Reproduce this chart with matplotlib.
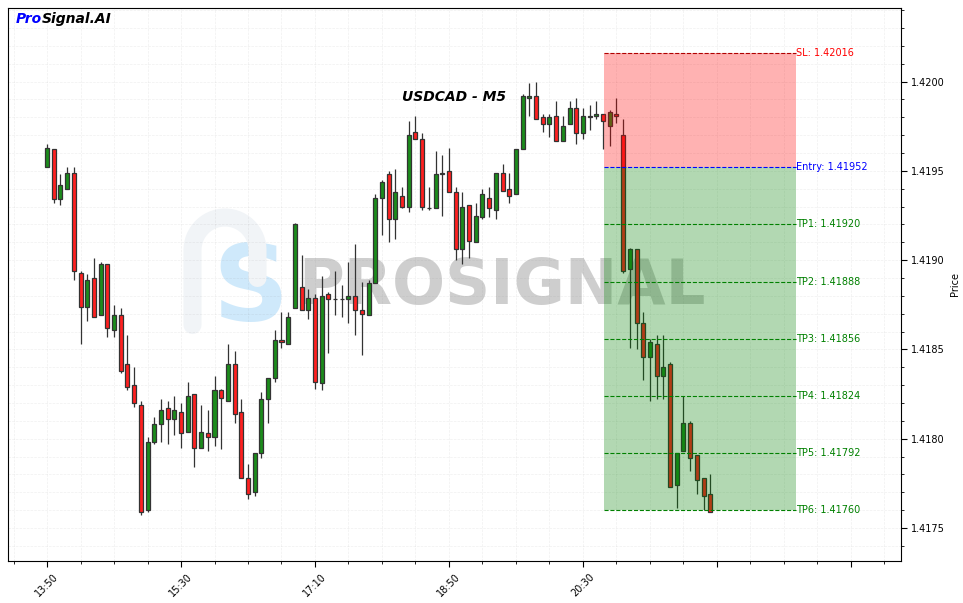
import numpy as np
import matplotlib
matplotlib.use('Agg')
import matplotlib.pyplot as plt
from matplotlib.ticker import MultipleLocator, FuncFormatter, FormatStrFormatter

symbol = 'USDCAD'
timeframe = 'M5'
start_hour, start_min, step_min = 13, 50, 5

# OHLC of the M5 candles
opens = [1.41952, 1.41962, 1.41934, 1.41940, 1.41949, 1.41893, 1.41874, 1.41890, 1.41869, 1.41898,
         1.41861, 1.41869, 1.41842, 1.41830, 1.41819, 1.41760, 1.41798, 1.41808, 1.41817, 1.41811,
         1.41815, 1.41804, 1.41825, 1.41795, 1.41803, 1.41801, 1.41827, 1.41821, 1.41842, 1.41815,
         1.41778, 1.41770, 1.41792, 1.41822, 1.41834, 1.41855, 1.41853, 1.41873, 1.41885, 1.41872,
         1.41879, 1.41831, 1.41881, 1.41878, 1.41878, 1.41878, 1.41880, 1.41872, 1.41869, 1.41887,
         1.41935, 1.41948, 1.41923, 1.41936, 1.41930, 1.41972, 1.41968, 1.41929, 1.41929, 1.41948,
         1.41950, 1.41938, 1.41906, 1.41931, 1.41910, 1.41924, 1.41935, 1.41928, 1.41949, 1.41940,
         1.41937, 1.41962, 1.41991, 1.41992, 1.41980, 1.41976, 1.41981, 1.41967, 1.41976, 1.41985,
         1.41971, 1.41981, 1.41981, 1.41982, 1.41975, 1.41982, 1.41970, 1.41895, 1.41906, 1.41865,
         1.41846, 1.41853, 1.41835, 1.41842, 1.41774, 1.41793, 1.41809, 1.41791, 1.41778, 1.41769]
highs = [1.41965, 1.41962, 1.41948, 1.41952, 1.41952, 1.41894, 1.41892, 1.41901, 1.41899, 1.41898,
         1.41875, 1.41873, 1.41858, 1.41840, 1.41821, 1.41801, 1.41812, 1.41822, 1.41821, 1.41824,
         1.41820, 1.41832, 1.41825, 1.41819, 1.41816, 1.41835, 1.41828, 1.41853, 1.41849, 1.41822,
         1.41786, 1.41792, 1.41826, 1.41834, 1.41861, 1.41871, 1.41871, 1.41921, 1.41903, 1.41884,
         1.41881, 1.41891, 1.41882, 1.41894, 1.41886, 1.41899, 1.41909, 1.41888, 1.41889, 1.41937,
         1.41945, 1.41950, 1.41951, 1.41941, 1.41978, 1.41981, 1.41971, 1.41941, 1.41961, 1.41959,
         1.41963, 1.41941, 1.41938, 1.41931, 1.41932, 1.41940, 1.41941, 1.41949, 1.41954, 1.41949,
         1.41962, 1.41993, 1.41999, 1.42000, 1.41982, 1.41982, 1.41989, 1.41981, 1.41989, 1.41991,
         1.41985, 1.41987, 1.41989, 1.41982, 1.41984, 1.41991, 1.41979, 1.41907, 1.41906, 1.41871,
         1.41856, 1.41858, 1.41858, 1.41843, 1.41792, 1.41824, 1.41810, 1.41791, 1.41778, 1.41780]
lows = [1.41952, 1.41932, 1.41931, 1.41940, 1.41889, 1.41853, 1.41866, 1.41868, 1.41869, 1.41857,
        1.41857, 1.41837, 1.41827, 1.41818, 1.41757, 1.41759, 1.41797, 1.41798, 1.41797, 1.41802,
        1.41795, 1.41804, 1.41784, 1.41795, 1.41793, 1.41796, 1.41794, 1.41821, 1.41809, 1.41778,
        1.41766, 1.41768, 1.41789, 1.41809, 1.41832, 1.41851, 1.41853, 1.41873, 1.41872, 1.41867,
        1.41828, 1.41827, 1.41848, 1.41869, 1.41868, 1.41865, 1.41858, 1.41847, 1.41869, 1.41887,
        1.41914, 1.41910, 1.41912, 1.41929, 1.41927, 1.41968, 1.41928, 1.41928, 1.41929, 1.41925,
        1.41938, 1.41900, 1.41898, 1.41901, 1.41910, 1.41923, 1.41924, 1.41923, 1.41939, 1.41932,
        1.41937, 1.41962, 1.41981, 1.41979, 1.41972, 1.41969, 1.41967, 1.41967, 1.41976, 1.41965,
        1.41968, 1.41973, 1.41979, 1.41962, 1.41964, 1.41977, 1.41893, 1.41851, 1.41850, 1.41833,
        1.41821, 1.41822, 1.41822, 1.41773, 1.41761, 1.41793, 1.41782, 1.41769, 1.41760, 1.41759]
closes = [1.41963, 1.41934, 1.41942, 1.41949, 1.41894, 1.41874, 1.41889, 1.41868, 1.41898, 1.41862,
          1.41869, 1.41838, 1.41829, 1.41820, 1.41759, 1.41798, 1.41808, 1.41816, 1.41811, 1.41816,
          1.41803, 1.41824, 1.41795, 1.41804, 1.41801, 1.41827, 1.41823, 1.41842, 1.41814, 1.41778,
          1.41769, 1.41792, 1.41822, 1.41834, 1.41855, 1.41854, 1.41868, 1.41920, 1.41872, 1.41879,
          1.41832, 1.41880, 1.41878, 1.41878, 1.41878, 1.41880, 1.41872, 1.41870, 1.41887, 1.41935,
          1.41944, 1.41923, 1.41938, 1.41930, 1.41970, 1.41968, 1.41930, 1.41929, 1.41948, 1.41949,
          1.41938, 1.41906, 1.41930, 1.41911, 1.41925, 1.41937, 1.41929, 1.41949, 1.41939, 1.41936,
          1.41962, 1.41992, 1.41992, 1.41979, 1.41976, 1.41980, 1.41967, 1.41975, 1.41985, 1.41971,
          1.41981, 1.41980, 1.41982, 1.41978, 1.41983, 1.41981, 1.41894, 1.41906, 1.41865, 1.41846,
          1.41854, 1.41835, 1.41840, 1.41773, 1.41792, 1.41809, 1.41789, 1.41777, 1.41768, 1.41759]

entry = 1.41952
stop_loss = 1.42016
take_profits = [1.41920, 1.41888, 1.41856, 1.41824, 1.41792, 1.41760]
zone_start, zone_end = 83.1, 111.8

o = np.array(opens)
h = np.array(highs)
l = np.array(lows)
c = np.array(closes)
x = np.arange(len(o))

fig = plt.figure(figsize=(9.63, 6.03), dpi=100)
ax = fig.add_axes([7.5 / 963, 42 / 603, 893 / 963, 553.5 / 603])

# watermark + logo
ax.text(0.554, 0.495, 'PROSIGNAL', transform=ax.transAxes, fontsize=45, fontweight='bold',
        color='gray', alpha=0.38, ha='center', va='center', zorder=0)
ax.text(0.2716, 0.486, 'S', transform=ax.transAxes, fontsize=76, fontweight='bold',
        color='#a8d8f8', alpha=0.55, ha='center', va='center', zorder=0)
t = np.linspace(np.pi, 0, 30)
px = np.concatenate([[192.5, 192.5], 225 + 32.5 * np.cos(t), [257.5]])
py = np.concatenate([[325, 250], 250 - 32.5 * np.sin(t), [278]])
ax.plot((px - 7.5) / 893, (561 - py) / 553.5, transform=ax.transAxes, color='#f1f4f7',
        linewidth=13, solid_capstyle='round', zorder=0)

# candles
colors = ['#1c8c1c' if cc >= oo else '#ff2020' for oo, cc in zip(o, c)]
ax.vlines(x, l, h, color='#333333', linewidth=0.9, zorder=2)
ax.bar(x, np.maximum(np.abs(c - o), 1e-7), bottom=np.minimum(o, c), width=0.6,
       color=colors, edgecolor='#333333', linewidth=0.9, zorder=3)

# trade zones
ax.fill_between([zone_start, zone_end], entry, stop_loss, color='red', alpha=0.3, linewidth=0, zorder=4)
ax.fill_between([zone_start, zone_end], take_profits[-1], entry, color='green', alpha=0.3, linewidth=0, zorder=4)
ax.hlines(stop_loss, zone_start, zone_end, colors='#b00000', linestyles='--', linewidth=0.8, zorder=5)
ax.hlines(entry, zone_start, zone_end, colors='blue', linestyles='--', linewidth=0.8, zorder=5)
ax.hlines(take_profits, zone_start, zone_end, colors='green', linestyles='--', linewidth=0.8, zorder=5)
ax.text(zone_end, stop_loss, f'SL: {stop_loss:.5f}', color='red', fontsize=7, va='center', ha='left')
ax.text(zone_end, entry, f'Entry: {entry:.5f}', color='blue', fontsize=7, va='center', ha='left')
for i, tp in enumerate(take_profits):
    ax.text(zone_end, tp, f'TP{i + 1}: {tp:.5f}', color='green', fontsize=7, va='center', ha='left')

# titles
ax.text(0.5, 0.838, f'{symbol} - {timeframe}', transform=ax.transAxes, fontsize=10,
        fontweight='bold', fontstyle='italic', ha='center', va='center')
t_pro = ax.text(0.0095, 0.979, 'Pro', transform=ax.transAxes, fontsize=10, fontweight='bold',
                fontstyle='italic', color='blue', ha='left', va='center')
ax.annotate('Signal.AI', xy=(1, 0.5), xycoords=t_pro, fontsize=10, fontweight='bold',
            fontstyle='italic', color='black', ha='left', va='center')

# axes
ax.set_xlim(-5.9, 127.4)
ax.set_ylim(1.417315, 1.420415)


def time_label(v, pos):
    i = int(round(v))
    if 0 <= i < len(o):
        m = start_hour * 60 + start_min + i * step_min
        return f'{(m // 60) % 24:02d}:{m % 60:02d}'
    return ''


ax.xaxis.set_major_locator(MultipleLocator(20))
ax.xaxis.set_minor_locator(MultipleLocator(5))
ax.xaxis.set_major_formatter(FuncFormatter(time_label))
ax.yaxis.set_major_locator(MultipleLocator(0.0005))
ax.yaxis.set_minor_locator(MultipleLocator(0.0001))
ax.yaxis.set_major_formatter(FormatStrFormatter('%.4f'))
ax.yaxis.tick_right()
ax.yaxis.set_label_position('right')
ax.set_ylabel('Price', fontsize=7)
ax.tick_params(axis='both', which='major', labelsize=7, length=4)
ax.tick_params(axis='both', which='minor', length=2)
plt.setp(ax.get_xticklabels(), rotation=45)
ax.grid(True, which='both', linestyle='--', color='gray', alpha=0.12, linewidth=0.5)

fig.savefig('out.png', dpi=100)
